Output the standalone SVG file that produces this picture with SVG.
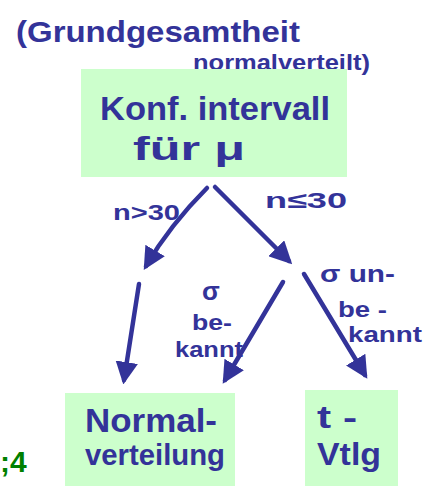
<svg xmlns="http://www.w3.org/2000/svg" width="430" height="486" viewBox="0 0 430 486">
<defs>
<style>
.box{fill:#ccffcc;stroke:none}
.t{font-family:"Liberation Sans",Arial,sans-serif;fill:#333399;font-weight:bold}
.c{stroke:#333399;stroke-width:4.5;fill:none;stroke-linecap:round}
</style>
<marker id="ah" viewBox="0 0 10 10" refX="8" refY="5" markerWidth="5" markerHeight="5" orient="auto" markerUnits="strokeWidth">
<path d="M0,0 L10,5 L0,10 z" fill="#333399"/>
</marker>
</defs>
<rect width="430" height="486" fill="#ffffff"/>
<g id="header">
<text class="t" x="16" y="42" font-size="30" textLength="284" lengthAdjust="spacingAndGlyphs">(Grundgesamtheit</text>
<text class="t" x="193" y="70" font-size="22" textLength="177" lengthAdjust="spacingAndGlyphs">normalverteilt)</text>
</g>
<g id="node-konf">
<rect class="box" x="81" y="69" width="266" height="108"/>
<text class="t" x="100" y="120" font-size="34" textLength="230" lengthAdjust="spacingAndGlyphs">Konf. intervall</text>
<text class="t" x="133" y="160" font-size="34" textLength="112" lengthAdjust="spacingAndGlyphs">für  μ</text>
</g>
<g id="node-normal">
<rect class="box" x="65" y="393" width="170" height="93"/>
<text class="t" x="85" y="432" font-size="34" textLength="132" lengthAdjust="spacingAndGlyphs">Normal-</text>
<text class="t" x="85" y="465" font-size="30" textLength="140" lengthAdjust="spacingAndGlyphs">verteilung</text>
</g>
<g id="node-t">
<rect class="box" x="305" y="390" width="93" height="96"/>
<text class="t" x="317" y="428" font-size="32" textLength="40" lengthAdjust="spacingAndGlyphs">t -</text>
<text class="t" x="317" y="465" font-size="32" textLength="64" lengthAdjust="spacingAndGlyphs">Vtlg</text>
</g>
<g id="connectors">
<path class="c" d="M207,188 Q170,225 146,266" marker-end="url(#ah)"/>
<path class="c" d="M215,187 L289,261" marker-end="url(#ah)"/>
<path class="c" d="M139,284 L124,380" marker-end="url(#ah)"/>
<path class="c" d="M283,282 L225,380" marker-end="url(#ah)"/>
<path class="c" d="M304,274 L365,375" marker-end="url(#ah)"/>
</g>
<g id="labels">
<text class="t" x="113" y="220" font-size="22" textLength="67" lengthAdjust="spacingAndGlyphs">n&gt;30</text>
<text class="t" x="265" y="208" font-size="22" textLength="82" lengthAdjust="spacingAndGlyphs">n≤30</text>
<text class="t" x="202" y="300" font-size="26">σ</text>
<text class="t" x="192" y="330" font-size="22" textLength="40" lengthAdjust="spacingAndGlyphs">be-</text>
<text class="t" x="175" y="357" font-size="22" textLength="68" lengthAdjust="spacingAndGlyphs">kannt</text>
<text class="t" x="320" y="282" font-size="24" textLength="75" lengthAdjust="spacingAndGlyphs">σ un-</text>
<text class="t" x="338" y="317" font-size="22" textLength="49" lengthAdjust="spacingAndGlyphs">be -</text>
<text class="t" x="348" y="342" font-size="22" textLength="74" lengthAdjust="spacingAndGlyphs">kannt</text>
</g>
<text x="0" y="472" font-family="Liberation Sans,Arial,sans-serif" font-size="30" font-weight="bold" fill="#008000">;4</text>
</svg>
